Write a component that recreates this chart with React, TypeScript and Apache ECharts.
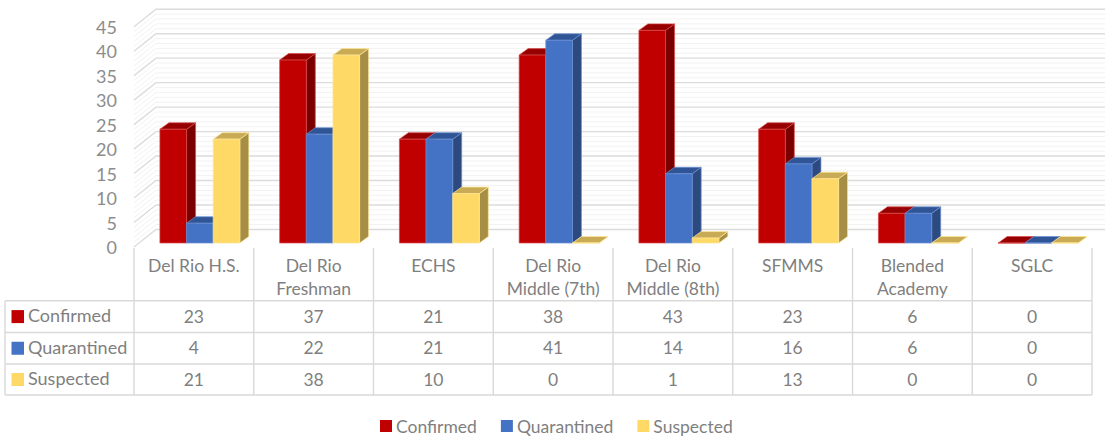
import React, { useEffect, useRef } from "react";
import * as echarts from "echarts";

const categories = ["Del Rio H.S.", "Del Rio\nFreshman", "ECHS", "Del Rio\nMiddle (7th)", "Del Rio\nMiddle (8th)", "SFMMS", "Blended\nAcademy", "SGLC"];
const confirmed = [23, 37, 21, 38, 43, 23, 6, 0];
const quarantined = [4, 22, 21, 41, 14, 16, 6, 0];
const suspected = [21, 38, 10, 0, 1, 13, 0, 0];
const seriesNames = ["Confirmed", "Quarantined", "Suspected"];
const seriesValues = [confirmed, quarantined, suspected];
const front = ["#C00000", "#4472C4", "#FFD966"];
const topFace = ["#960000", "#2F5597", "#C9AB55"];
const sideFace = ["#7A0000", "#2C4A80", "#A68F45"];
const edge = ["#D94A4A", "#6C90D4", "#FFE596"];
const gridSteps = Array.from({ length: 46 }, (_, i) => i);

const FONT = "Lato, Carlito, sans-serif";
const TEXT = "#7F7F7F";
const LINE = "#D9D9D9";
const G = { left: 134, right: 13, top: 26.7, base: 247 };
const WALL = { dx: 22, dy: 17.5 };
const BAR = { inset: 6, drop: 4, dx: 9, dy: 6.5, ratio: 0.2225, scale: 1.01 };

function App() {
  const ref = useRef<HTMLDivElement>(null);
  useEffect(() => {
    document.body.style.margin = "0";
    const chart = echarts.init(ref.current!, null, { renderer: "svg" });

    const wall = {
      type: "custom",
      silent: true,
      z: 1,
      encode: { x: 0, y: 1 },
      data: gridSteps.map((v) => [0, v]),
      renderItem: (params: any, api: any) => {
        const v = api.value(1);
        const y = api.coord([0, v])[1];
        const cs = params.coordSys;
        const major = v % 5 === 0;
        return {
          type: "polyline",
          shape: { points: [[cs.x, y], [cs.x + WALL.dx, y - WALL.dy], [1105, y - WALL.dy]] },
          style: { fill: "none", stroke: major ? "#DCDCDC" : "#F2F2F2", lineWidth: major ? 1.4 : 1 },
        };
      },
    };

    const bars = seriesNames.map((name, s) => ({
      type: "custom",
      name,
      z: 2,
      itemStyle: { color: front[s] },
      encode: { x: 0, y: 1 },
      data: seriesValues[s].map((v, i) => [i, v]),
      renderItem: (_: any, api: any) => {
        const i = api.value(0);
        const [cx, y0] = api.coord([i, 0]);
        const [, yv] = api.coord([i, api.value(1)]);
        const band = api.size([1, 0])[0];
        const w = band * BAR.ratio;
        const x1 = cx + BAR.inset + (s - 1.5) * w;
        const x2 = x1 + w;
        const by = y0 - BAR.drop;
        const ty = by - (y0 - yv) * BAR.scale;
        const d = BAR;
        const st = (fill: string) => ({ fill, stroke: edge[s], lineWidth: 0.7 });
        return {
          type: "group",
          children: [
            { type: "polygon", shape: { points: [[x2, ty], [x2 + d.dx, ty - d.dy], [x2 + d.dx, by - d.dy], [x2, by]] }, style: st(sideFace[s]) },
            { type: "polygon", shape: { points: [[x1, ty], [x1 + d.dx, ty - d.dy], [x2 + d.dx, ty - d.dy], [x2, ty]] }, style: st(topFace[s]) },
            { type: "rect", shape: { x: x1, y: ty, width: w, height: by - ty }, style: st(front[s]) },
          ],
        };
      },
    }));

    const colW = (1105 - G.left - G.right) / categories.length;
    const rowY = [300.7, 332.5, 364, 395];
    const line = (x1: number, y1: number, x2: number, y2: number) => ({
      type: "line",
      shape: { x1, y1, x2, y2 },
      style: { stroke: LINE, lineWidth: 1.4 },
    });
    const label = (text: string, x: number, y: number, align: string, fontSize: number) => ({
      type: "text",
      x,
      y,
      style: { text, fontFamily: FONT, fontSize, fill: TEXT, align, verticalAlign: "middle" },
    });
    const graphics: any[] = [];
    categories.forEach((_, i) => graphics.push(line(G.left + i * colW, 248, G.left + i * colW, rowY[3])));
    graphics.push(line(G.left + categories.length * colW, 248, G.left + categories.length * colW, rowY[3]));
    graphics.push(line(5, rowY[0], 5, rowY[3]));
    rowY.forEach((y) => graphics.push(line(5, y, G.left + categories.length * colW, y)));
    seriesNames.forEach((name, s) => {
      const cy = (rowY[s] + rowY[s + 1]) / 2;
      graphics.push({ type: "rect", shape: { x: 11.5, y: cy - 6.5, width: 12.5, height: 13 }, style: { fill: front[s] } });
      graphics.push(label(name, 28, cy - 1.5, "left", 18));
      seriesValues[s].forEach((v, i) => graphics.push(label(String(v), G.left + (i + 0.5) * colW, cy - 0.5, "center", 17.5)));
    });

    chart.setOption({
      animation: false,
      backgroundColor: "#fff",
      textStyle: { fontFamily: FONT },
      grid: { left: G.left, right: G.right, top: G.top, bottom: 436 - G.base, containLabel: false },
      xAxis: {
        type: "category",
        data: categories,
        axisLine: { show: false },
        axisTick: { show: false },
        splitLine: { show: false },
        axisLabel: { interval: 0, color: TEXT, fontFamily: FONT, fontSize: 17.5, lineHeight: 23, margin: 7, verticalAlign: "top" },
      },
      yAxis: {
        type: "value",
        min: 0,
        max: 45,
        interval: 5,
        axisLine: { show: false },
        axisTick: { show: false },
        splitLine: { show: false },
        axisLabel: { color: "#8C8C8C", fontFamily: FONT, fontSize: 18, margin: 17 },
      },
      legend: {
        data: seriesNames,
        left: 380,
        top: 417,
        icon: "rect",
        itemWidth: 12,
        itemHeight: 12,
        itemGap: 24,
        padding: 0,
        textStyle: { color: TEXT, fontFamily: FONT, fontSize: 17.5, lineHeight: 15, padding: [0, 0, 0, -1] },
      },
      graphic: { elements: graphics },
      series: [wall, ...bars],
    });
    return () => chart.dispose();
  }, []);
  return <div ref={ref} style={{ position: "fixed", left: 0, top: 0, width: 1105, height: 436 }} />;
}

export default App;
